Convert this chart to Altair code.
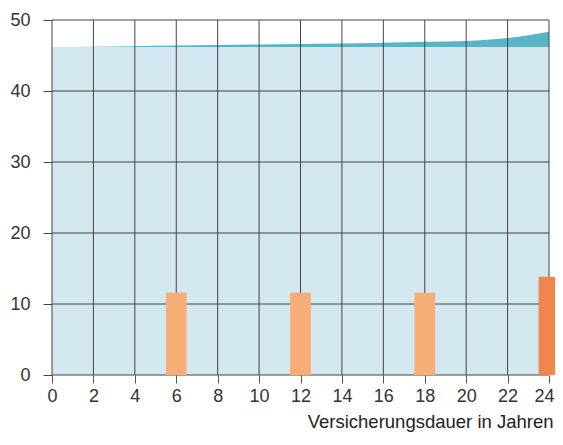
import altair as alt
import pandas as pd

# --- data ---
years = [0, 2, 4, 6, 8, 10, 12, 14, 16, 18, 20, 22, 23, 24]
base_values = [46.2] * len(years)
total_values = [46.2, 46.25, 46.32, 46.4, 46.47, 46.55, 46.62, 46.7, 46.8, 46.95, 47.05, 47.45, 47.85, 48.35]

bar_years = [6, 12, 18, 24]
bar_values = [11.6, 11.6, 11.6, 13.85]
bar_kind = ["Beitrag", "Beitrag", "Beitrag", "Auszahlung"]

x_ticks = [0, 2, 4, 6, 8, 10, 12, 14, 16, 18, 20, 22, 24]
y_ticks = [0, 10, 20, 30, 40, 50]

FONT = "Liberation Sans"

area_df = pd.DataFrame({"year": years, "base": base_values, "total": total_values})
bar_df = pd.DataFrame({"year": bar_years, "value": bar_values, "kind": bar_kind})
gx_df = pd.DataFrame({"gx": x_ticks})
gy_df = pd.DataFrame({"gy": y_ticks})

xscale = alt.Scale(domain=[0, 24], nice=False, zero=False, padding=0)
yscale = alt.Scale(domain=[0, 50], nice=False, padding=0)

xaxis = alt.Axis(values=x_ticks, grid=False, domain=False, tickColor="#555", tickSize=8,
                 labelFont=FONT, labelFontSize=18, labelColor="#333", labelPadding=4,
                 labelFlush=False,
                 labelOffset=alt.expr("datum.value >= 24 ? -5 : 0"),
                 title="Versicherungsdauer in Jahren", titleFont=FONT, titleFontSize=18.5,
                 titleFontWeight="normal", titleColor="#222", titleAnchor="end", titleAlign="right",
                 titleX=501, titleY=52, titleBaseline="alphabetic", format="d")
yaxis = alt.Axis(values=y_ticks, grid=False, domain=False, tickColor="#444", tickSize=9,
                 labelFont=FONT, labelFontSize=18, labelColor="#333", labelPadding=13,
                 labelFlush=False, title=None, format="d")

base_area = alt.Chart(area_df).mark_area(color="#d2e7ee").encode(
    x=alt.X("year:Q", scale=xscale, axis=xaxis),
    y=alt.Y("base:Q", scale=yscale, axis=yaxis),
)

top_area = alt.Chart(area_df).mark_area(color="#5ab3c7", interpolate="monotone").encode(
    x=alt.X("year:Q"),
    y=alt.Y("total:Q"),
    y2="base:Q",
)

vgrid = alt.Chart(gx_df).mark_rule(color="#444", strokeWidth=1).encode(x="gx:Q")
hgrid = alt.Chart(gy_df).mark_rule(color="#444", strokeWidth=1).encode(y="gy:Q")

bars = alt.Chart(bar_df).mark_bar(size=20.7).encode(
    x="year:Q",
    y="value:Q",
    color=alt.Color("kind:N", scale=alt.Scale(domain=["Beitrag", "Auszahlung"],
                                              range=["#f6ad76", "#ee864d"]), legend=None),
)

chart = alt.layer(base_area, top_area, vgrid, hgrid, bars).properties(
    width=497, height=355,
    autosize=alt.AutoSizeParams(type="none"),
    padding={"left": 44, "top": 12, "right": 6, "bottom": 57},
).configure_view(stroke=None)

chart.save("out.html", embed_options={"renderer": "svg", "actions": False})
